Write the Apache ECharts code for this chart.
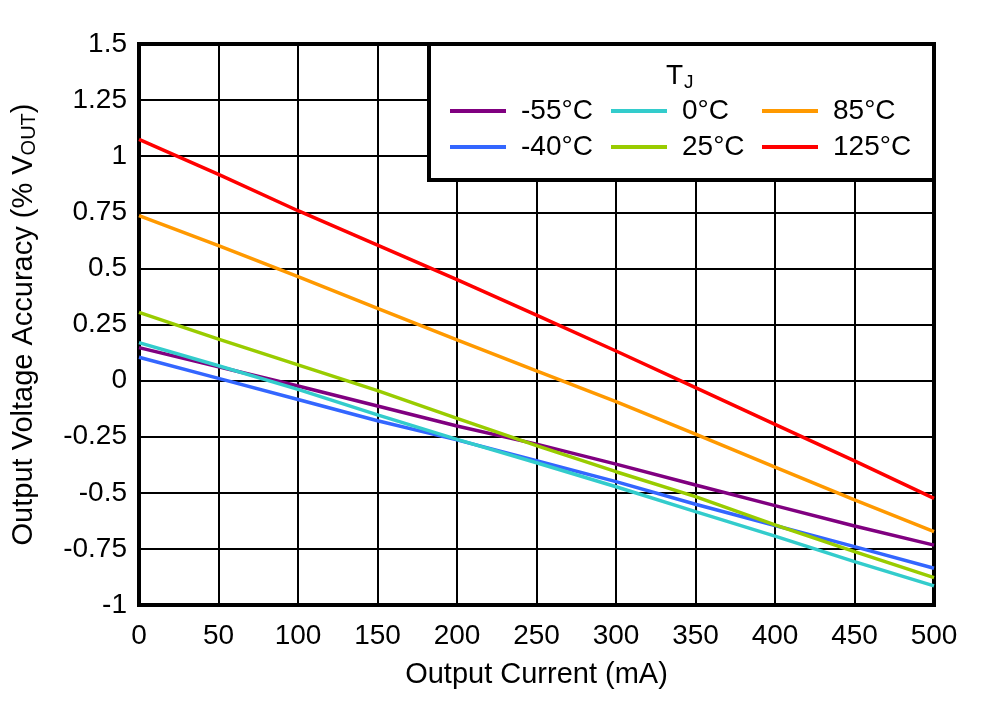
<!DOCTYPE html>
<html>
<head>
<meta charset="utf-8">
<script src="https://cdn.jsdelivr.net/npm/echarts@6/dist/echarts.min.js"></script>
<style>
html,body{margin:0;padding:0;background:#fff;}
#chart{width:982px;height:701px;}
</style>
</head>
<body>
<div id="chart"></div>
<script>
const currents = [0, 50, 100, 150, 200, 250, 300, 350, 400, 450, 500];
const seriesNames = ['-55°C', '-40°C', '0°C', '25°C', '85°C', '125°C'];
const tM55 = [0.147, 0.062, -0.024, -0.113, -0.202, -0.283, -0.372, -0.465, -0.557, -0.648, -0.733];
const tM40 = [0.104, 0.010, -0.084, -0.179, -0.264, -0.357, -0.450, -0.551, -0.646, -0.740, -0.836];
const t0   = [0.169, 0.066, -0.039, -0.153, -0.262, -0.366, -0.473, -0.584, -0.693, -0.807, -0.915];
const t25  = [0.304, 0.185, 0.070, -0.045, -0.168, -0.290, -0.406, -0.517, -0.643, -0.762, -0.878];
const t85  = [0.735, 0.601, 0.463, 0.322, 0.181, 0.043, -0.094, -0.239, -0.386, -0.532, -0.673];
const t125 = [1.075, 0.919, 0.757, 0.604, 0.450, 0.292, 0.132, -0.031, -0.195, -0.358, -0.525];
const xTicks = [0, 50, 100, 150, 200, 250, 300, 350, 400, 450, 500];
const yTicks = [-1, -0.75, -0.5, -0.25, 0, 0.25, 0.5, 0.75, 1, 1.25, 1.5];
const colors = ['#800080', '#3366ff', '#33cccc', '#99cc00', '#ff9900', '#ff0000'];
const allValues = [tM55, tM40, t0, t25, t85, t125];

const FONT = '"Liberation Sans", Arial, sans-serif';
const FS = 28;
const FN = 29;
const chart = echarts.init(document.getElementById('chart'), null, {renderer: 'canvas'});

const series = seriesNames.map((n, i) => ({
  name: n,
  type: 'line',
  data: currents.map((c, j) => [c, allValues[i][j]]),
  symbol: 'none',
  smooth: false,
  lineStyle: {color: colors[i], width: 3.5},
  itemStyle: {color: colors[i]},
  z: 3
}));

function legendCol(left, names) {
  return {
    left: left, top: 96, orient: 'vertical', padding: 0,
    icon: 'rect', itemWidth: 56, itemHeight: 4, itemGap: 6,
    data: names, z: 20,
    textStyle: {fontFamily: FONT, fontSize: FS, color: '#000', padding: [0, 0, 0, 10], lineHeight: 30},
    selectedMode: false
  };
}

chart.setOption({
  animation: false,
  backgroundColor: '#fff',
  grid: {left: 139, top: 44, right: 48, bottom: 96, show: true, borderColor: '#000', borderWidth: 4, backgroundColor: 'transparent'},
  xAxis: {
    type: 'value', min: 0, max: 500, interval: 50,
    name: 'Output Current (mA)', nameLocation: 'middle', nameGap: 55,
    nameTextStyle: {fontFamily: FONT, fontSize: FN, color: '#000'},
    axisLine: {show: false}, axisTick: {show: false},
    axisLabel: {fontFamily: FONT, fontSize: FS, color: '#000', margin: 17,
      formatter: v => xTicks.includes(v) ? String(v) : ''},
    splitLine: {show: true, lineStyle: {color: '#000', width: 2}}
  },
  yAxis: {
    type: 'value', min: -1, max: 1.5, interval: 0.25,
    name: '{n|Output Voltage Accuracy (% V}{s|OUT}{n|)}', nameLocation: 'middle', nameGap: 100,
    nameTextStyle: {fontFamily: FONT, fontSize: FN, color: '#000',
      rich: {n: {fontFamily: FONT, fontSize: FN, color: '#000'}, s: {fontFamily: FONT, fontSize: 20, color: '#000', verticalAlign: 'bottom', padding: [10, 0, 0, 0]}}},
    axisLine: {show: false}, axisTick: {show: false},
    axisLabel: {fontFamily: FONT, fontSize: FS, color: '#000', margin: 12,
      formatter: v => yTicks.includes(v) ? String(v) : ''},
    splitLine: {show: true, lineStyle: {color: '#000', width: 2}}
  },
  legend: [
    legendCol(450, ['-55°C', '-40°C']),
    legendCol(611, ['0°C', '25°C']),
    legendCol(762, ['85°C', '125°C'])
  ],
  graphic: [
    {type: 'rect', z: 10, shape: {x: 429, y: 44, width: 505, height: 136},
      style: {fill: '#fff', stroke: '#000', lineWidth: 4}},
    {type: 'text', z: 21, left: 666, top: 62,
      style: {text: '{t|T}{s|J}', fill: '#000',
        rich: {t: {fontFamily: FONT, fontSize: FS, fill: '#000'}, s: {fontFamily: FONT, fontSize: 19, fill: '#000', padding: [14, 0, 0, 1]}}}}
  ],
  series: series
});
</script>
</body>
</html>
